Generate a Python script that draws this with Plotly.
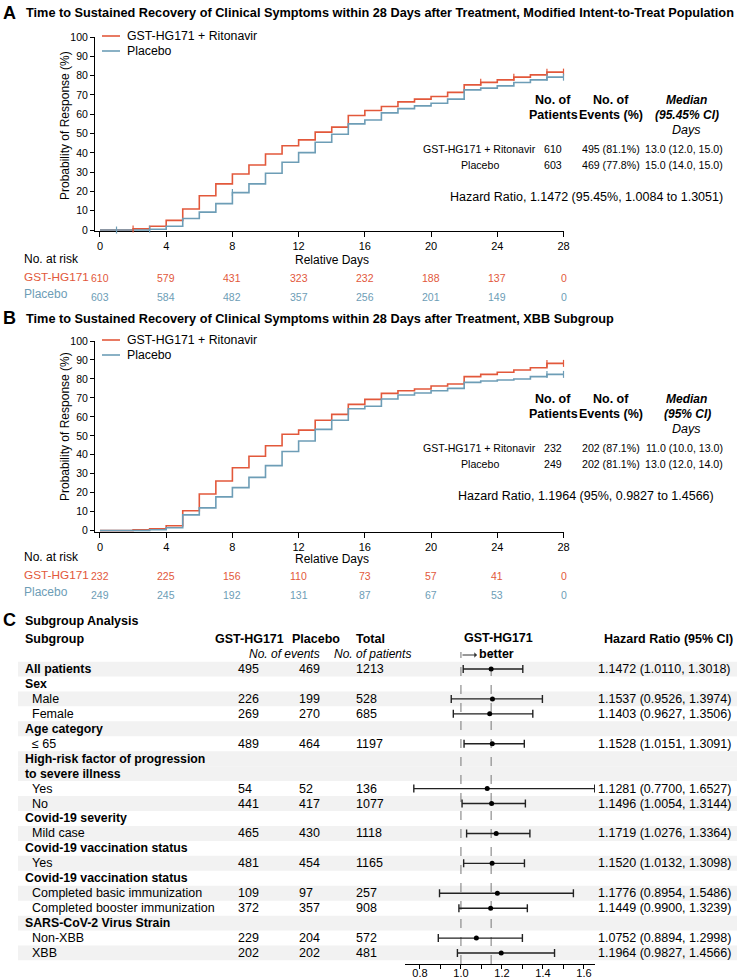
import plotly.graph_objects as go

W, H = 738, 979
def X(px): return px / W
def Y(py): return 1 - py / H

RED = "#E2583B"
BLUE = "#6D9DB6"
FONT = "Liberation Sans, Arial, sans-serif"

# ---------------- data ----------------
days = list(range(29))
a_trt = [0, 0, 0.6, 2, 5, 10.9, 17.8, 23.9, 29, 33.7, 39.4, 43.7, 46.7, 50.7, 53.3, 59.3, 61.9,
         64, 66.4, 67.8, 69.2, 71.3, 75.2, 76.5, 77.8, 79.2, 80.4, 81.8, 81.8]
a_pbo = [0, 0, 0, 0.4, 2, 6, 9.3, 13.7, 19.4, 23.9, 29.4, 35.1, 40.1, 45.5, 49.6, 55, 57,
         60.7, 62.9, 64.3, 65.7, 67.8, 72.6, 73.5, 74.7, 76.4, 77.8, 79.2, 79.2]
b_trt = [0, 0, 0.5, 1, 2.6, 10.5, 19.3, 26.2, 33.2, 39.2, 44.8, 50.8, 53, 58.2, 61.3, 66.6, 69.2,
         72.4, 73.8, 74.7, 76.3, 77.3, 81.2, 82.4, 83.5, 84.7, 85.9, 88.2, 88.2]
b_pbo = [0, 0, 0, 0.5, 1.5, 8.3, 12, 17.8, 22.7, 28.1, 34.3, 41.7, 47.3, 53.4, 58.2, 64.3, 65.6,
         69.4, 71.5, 72.6, 73.8, 75, 78.2, 78.9, 79.4, 80, 81.2, 82.4, 82.4]
a_trt_cens = [2, 23, 25, 27, 28]
a_pbo_cens = [1, 3, 8, 27, 28]
b_trt_cens = [27, 28]
b_pbo_cens = [27, 28]

risk_days = [0, 4, 8, 12, 16, 20, 24, 28]
a_risk_trt = [610, 579, 431, 323, 232, 188, 137, 0]
a_risk_pbo = [603, 584, 482, 357, 256, 201, 149, 0]
b_risk_trt = [232, 225, 156, 110, 73, 57, 41, 0]
b_risk_pbo = [249, 245, 192, 131, 87, 67, 53, 0]

grp_names = ["GST-HG171 + Ritonavir", "Placebo"]
a_npat = ["610", "603"]
a_nevt = ["495 (81.1%)", "469 (77.8%)"]
a_med = ["13.0 (12.0, 15.0)", "15.0 (14.0, 15.0)"]
a_hr = "Hazard Ratio, 1.1472 (95.45%, 1.0084 to 1.3051)"
b_npat = ["232", "249"]
b_nevt = ["202 (87.1%)", "202 (81.1%)"]
b_med = ["11.0 (10.0, 13.0)", "13.0 (12.0, 14.0)"]
b_hr = "Hazard Ratio, 1.1964 (95%, 0.9827 to 1.4566)"

sg_labels = ["All patients", "Sex", "Male", "Female", "Age category", "≤ 65",
             "High-risk factor of progression", "to severe illness", "Yes", "No",
             "Covid-19 severity", "Mild case", "Covid-19 vaccination status", "Yes",
             "Covid-19 vaccination status", "Completed basic immunization",
             "Completed booster immunization", "SARS-CoV-2 Virus Strain", "Non-XBB", "XBB"]
sg_header = [True, True, False, False, True, False, True, True, False, False,
             True, False, True, False, True, False, False, True, False, False]
sg_trt = [495, None, 226, 269, None, 489, None, None, 54, 441, None, 465, None, 481,
          None, 109, 372, None, 229, 202]
sg_pbo = [469, None, 199, 270, None, 464, None, None, 52, 417, None, 430, None, 454,
          None, 97, 357, None, 204, 202]
sg_tot = [1213, None, 528, 685, None, 1197, None, None, 136, 1077, None, 1118, None, 1165,
          None, 257, 908, None, 572, 481]
sg_hr = [1.1472, None, 1.1537, 1.1403, None, 1.1528, None, None, 1.1281, 1.1496, None, 1.1719,
         None, 1.1520, None, 1.1776, 1.1449, None, 1.0752, 1.1964]
sg_lo = [1.0110, None, 0.9526, 0.9627, None, 1.0151, None, None, 0.7700, 1.0054, None, 1.0276,
         None, 1.0132, None, 0.8954, 0.9900, None, 0.8894, 0.9827]
sg_hi = [1.3018, None, 1.3974, 1.3506, None, 1.3091, None, None, 1.6527, 1.3144, None, 1.3364,
         None, 1.3098, None, 1.5486, 1.3239, None, 1.2998, 1.4566]
sg_shade = [True, False, True, False, True, False, True, True, False, True,
            False, True, False, True, False, True, False, True, False, True]
fp_ticks = [0.8, 0.9, 1.0, 1.1, 1.2, 1.3, 1.4, 1.5, 1.6]
fp_ticktext = ["0.8", "", "1.0", "", "1.2", "", "1.4", "", "1.6"]

# ---------------- figure ----------------
fig = go.Figure()
ann = []
shapes = []

def txt(s, x, y, size=12, color="black", bold=False, italic=False, xanchor="left",
        xref="paper", yref="paper", angle=0):
    if bold:
        s = f"<b>{s}</b>"
    if italic:
        s = f"<i>{s}</i>"
    ann.append(dict(text=s, x=x, y=y, xref=xref, yref=yref, showarrow=False,
                    xanchor=xanchor, yanchor="middle", textangle=angle, borderpad=0,
                    font=dict(size=size, color=color, family=FONT)))

def km_panel(xa, ya, trt, pbo, trt_c, pbo_c):
    fig.add_trace(go.Scatter(x=days, y=trt, mode="lines", line=dict(color=RED, width=1.6, shape="hv"),
                             name=grp_names[0], xaxis=xa, yaxis=ya, showlegend=False))
    fig.add_trace(go.Scatter(x=days, y=pbo, mode="lines", line=dict(color=BLUE, width=1.6, shape="hv"),
                             name=grp_names[1], xaxis=xa, yaxis=ya, showlegend=False))
    fig.add_trace(go.Scatter(x=trt_c, y=[trt[d] for d in trt_c], mode="markers", cliponaxis=False,
                             marker=dict(symbol="line-ns", size=5, line=dict(color=RED, width=1.2)),
                             xaxis=xa, yaxis=ya, showlegend=False))
    fig.add_trace(go.Scatter(x=pbo_c, y=[pbo[d] for d in pbo_c], mode="markers", cliponaxis=False,
                             marker=dict(symbol="line-ns", size=5, line=dict(color=BLUE, width=1.2)),
                             xaxis=xa, yaxis=ya, showlegend=False))

km_panel("x", "y", a_trt, a_pbo, a_trt_cens, a_pbo_cens)
km_panel("x2", "y2", b_trt, b_pbo, b_trt_cens, b_pbo_cens)

# forest plot
fp_rows = [i for i, v in enumerate(sg_hr) if v is not None]
fig.add_trace(go.Scatter(
    x=[sg_hr[i] for i in fp_rows], y=fp_rows, mode="markers",
    marker=dict(color="black", size=5),
    error_x=dict(type="data", symmetric=False,
                 array=[sg_hi[i] - sg_hr[i] for i in fp_rows],
                 arrayminus=[sg_hr[i] - sg_lo[i] for i in fp_rows],
                 color="#222222", thickness=1.4, width=4),
    xaxis="x3", yaxis="y3", showlegend=False, cliponaxis=False))

# ---------- panel titles ----------
txt("A", X(2), Y(13), size=18, bold=True)
txt("Time to Sustained Recovery of Clinical Symptoms within 28 Days after Treatment, Modified Intent-to-Treat Population",
    X(25), Y(13), size=12.72, bold=True)
txt("B", X(2), Y(318), size=18, bold=True)
txt("Time to Sustained Recovery of Clinical Symptoms within 28 Days after Treatment, XBB Subgroup",
    X(25), Y(318), size=12.72, bold=True)
txt("C", X(2), Y(620), size=18, bold=True)
txt("Subgroup Analysis", X(24), Y(621), size=12.5, bold=True)

# ---------- legends (keys + labels) ----------
def km_legend(y0):
    for k, col in enumerate([RED, BLUE]):
        yy = Y(y0 + 15 * k)
        shapes.append(dict(type="line", xref="paper", yref="paper", x0=X(102), x1=X(120),
                           y0=yy, y1=yy, line=dict(color=col, width=1.6)))
        txt(grp_names[k], X(126), yy, size=12.3)

km_legend(36)
km_legend(340)

# y-axis titles
txt("Probability of Response (%)", X(65), Y(126), size=12, xanchor="center", angle=-90)
txt("Probability of Response (%)", X(65), Y(427), size=12, xanchor="center", angle=-90)

# ---------- KM side tables ----------
def km_table(y0, npat, nevt, med, hr, ci_lab):
    txt("No. of", X(553), Y(y0), size=12.5, bold=True, xanchor="center")
    txt("Patients", X(553), Y(y0 + 15), size=12.5, bold=True, xanchor="center")
    txt("No. of", X(611), Y(y0), size=12.5, bold=True, xanchor="center")
    txt("Events (%)", X(611), Y(y0 + 15), size=12.5, bold=True, xanchor="center")
    txt("Median", X(686), Y(y0), size=12, bold=True, italic=True, xanchor="center")
    txt(ci_lab, X(687), Y(y0 + 15), size=12, bold=True, italic=True, xanchor="center")
    txt("Days", X(686), Y(y0 + 30), size=12.5, italic=True, xanchor="center")
    for k in range(2):
        yy = Y(y0 + 49 + 16 * k)
        if k == 0:
            txt(grp_names[k], X(537), yy, size=10.6, xanchor="right")
        else:
            txt(grp_names[k], X(480), yy, size=10.6, xanchor="center")
        txt(npat[k], X(553), yy, size=10.6, xanchor="center")
        txt(nevt[k], X(611), yy, size=10.6, xanchor="center")
        txt(med[k], X(684), yy, size=10.6, xanchor="center")
    txt(hr, X(586), Y(y0 + 97), size=12.5, xanchor="center")

km_table(100, a_npat, a_nevt, a_med, a_hr, "(95.45% CI)")
km_table(399, b_npat, b_nevt, b_med, b_hr, "(95% CI)")

# ---------- at-risk tables ----------
def risk_table(xa, y0, r_trt, r_pbo, dy_days):
    txt("No. at risk", X(23), Y(y0), size=12)
    txt("Relative Days", 14, Y(y0 + dy_days), size=12, xanchor="center", xref=xa)
    txt("GST-HG171", X(23), Y(y0 + 18), size=11.8, color=RED)
    txt("Placebo", X(23), Y(y0 + 35), size=12, color=BLUE)
    for d, v in zip(risk_days, r_trt):
        txt(str(v), d, Y(y0 + 19), size=10.5, color=RED, xanchor="center", xref=xa)
    for d, v in zip(risk_days, r_pbo):
        txt(str(v), d, Y(y0 + 38), size=10.5, color=BLUE, xanchor="center", xref=xa)

risk_table("x", 259, a_risk_trt, a_risk_pbo, 1)
risk_table("x2", 557, b_risk_trt, b_risk_pbo, 2)

# ---------- forest table ----------
txt("Subgroup", X(24), Y(639), size=12.5, bold=True)
txt("GST-HG171", X(249), Y(639), size=12.5, bold=True, xanchor="center")
txt("Placebo", X(316), Y(639), size=12.5, bold=True, xanchor="center")
txt("Total", X(355), Y(639), size=12.5, bold=True)
txt("No. of events", X(284), Y(654), size=12, italic=True, xanchor="center")
txt("No. of patients", X(333), Y(654), size=12, italic=True)
txt("GST-HG171", X(498), Y(638), size=12.5, bold=True, xanchor="center")
txt("better", X(478), Y(654), size=12.5, bold=True)
txt("Hazard Ratio (95% CI)", X(734), Y(639), size=12.5, bold=True, xanchor="right")
ann.append(dict(x=X(477), y=Y(655), xref="paper", yref="paper", text="", showarrow=True,
                ax=-16, ay=0, arrowhead=1, arrowsize=0.9, arrowwidth=1, arrowcolor="#333333"))

for i, lab in enumerate(sg_labels):
    if sg_header[i]:
        txt(lab, X(24), i, size=12.3, bold=True, yref="y3")
    else:
        txt(lab, X(31), i, size=12.5, yref="y3")
    if sg_trt[i] is not None:
        txt(str(sg_trt[i]), X(237), i, size=12.5, yref="y3")
        txt(str(sg_pbo[i]), X(298), i, size=12.5, yref="y3")
        txt(str(sg_tot[i]), X(355), i, size=12.5, yref="y3")
        txt(f"{sg_hr[i]:.4f} ({sg_lo[i]:.4f}, {sg_hi[i]:.4f})", X(597), i, size=12.5, yref="y3")
    if sg_shade[i]:
        shapes.append(dict(type="rect", xref="paper", yref="y3", x0=X(18), x1=X(737),
                           y0=i - 0.5, y1=i + 0.5, fillcolor="#F2F2F2", line=dict(width=0),
                           layer="below"))

for v in [1.0, sg_hr[0]]:
    shapes.append(dict(type="line", xref="x3", yref="paper", x0=v, x1=v, y0=Y(964), y1=Y(652),
                       line=dict(color="#777777", width=1, dash="dash"), layer="below"))

# ---------- axes ----------
axis_common = dict(showline=True, linecolor="black", linewidth=1, ticks="outside",
                   tickcolor="black", showgrid=False, zeroline=False, automargin=False,
                   tickfont=dict(family=FONT, size=11, color="black"))

km_x = dict(axis_common, range=[-0.3, 28], tickvals=risk_days, ticklen=5, layer="below traces")
km_y = dict(axis_common, range=[-0.6, 100], dtick=10, ticklen=4,
            tickfont=dict(family=FONT, size=10.5, color="black"), layer="below traces")

fig.update_layout(
    template="none",
    width=W, height=H, margin=dict(l=0, r=0, t=0, b=0, pad=0, autoexpand=False),
    paper_bgcolor="white", plot_bgcolor="rgba(0,0,0,0)", showlegend=False,
    font=dict(family=FONT, size=12, color="black"),
    xaxis=dict(km_x, domain=[X(95), X(563.5)], anchor="y"),
    yaxis=dict(km_y, domain=[Y(231.2), Y(37)], anchor="x"),
    xaxis2=dict(km_x, domain=[X(95), X(563.5)], anchor="y2"),
    yaxis2=dict(km_y, domain=[Y(531.8), Y(341)], anchor="x2"),
    xaxis3=dict(axis_common, domain=[X(405), X(595)], range=[0.727, 1.654], anchor="free",
                position=Y(964), tickvals=fp_ticks, ticktext=fp_ticktext, ticklen=4,
                ticklabelstandoff=-5,
                tickfont=dict(family=FONT, size=11, color="black")),
    yaxis3=dict(domain=[Y(960.5), Y(661.5)], range=[19.5, -0.5], visible=False, anchor="x3",
                automargin=False),
    annotations=ann, shapes=shapes,
)

fig.write_html("out.html", config={"displayModeBar": False},
               post_script="document.body.style.margin='0px';")
